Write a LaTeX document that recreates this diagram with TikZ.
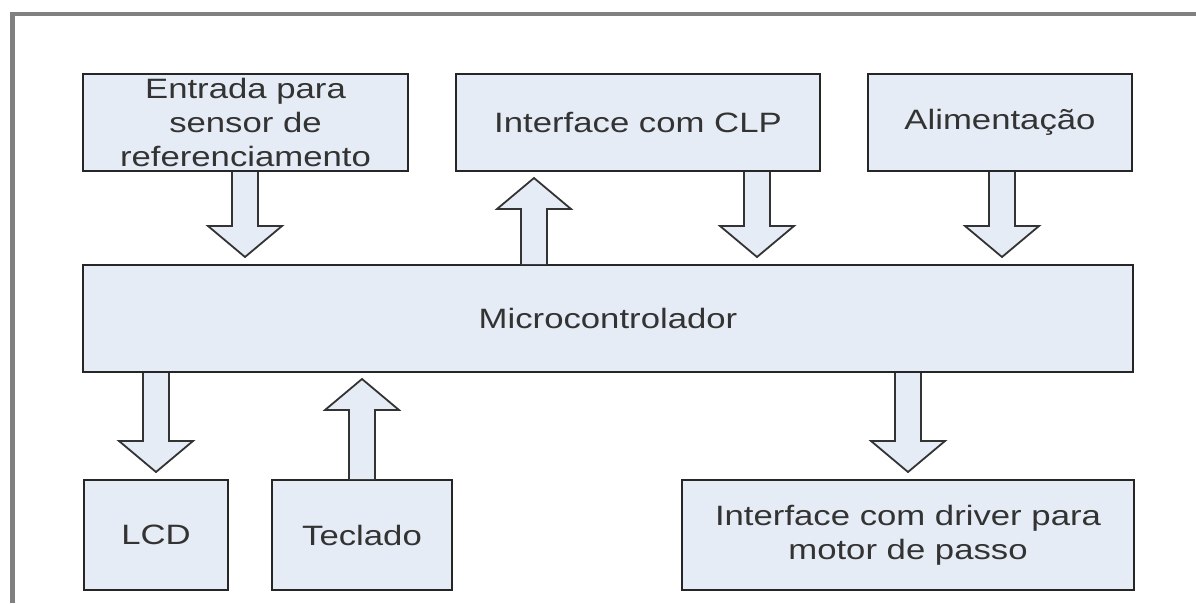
\documentclass[tikz,border=0pt]{standalone}
\usepackage{fontspec}
\setmainfont{Liberation Sans}[FakeStretch=1.24]
\usetikzlibrary{calc}
\definecolor{boxfill}{HTML}{E6ECF6}
\definecolor{txt}{HTML}{333333}
\definecolor{framegray}{HTML}{808080}
\tikzset{
  blockbox/.style={draw=black!85, line width=2pt, fill=boxfill, text=txt,
    inner sep=0pt, align=center, font=\fontsize{28}{34}\selectfont},
  blk/.style={draw=black!80, line width=1.8pt, fill=boxfill, line join=miter}
}
\newcommand\arrdown[3]{%
  \draw[blk] let \p1=(#2.south), \p2=(#3.north) in
    ({#1pt-13pt},\y1) -- ({#1pt-13pt},\y2+38pt) -- ({#1pt-37pt},\y2+38pt)
    -- ({#1pt},\y2+7pt) -- ({#1pt+37pt},\y2+38pt) -- ({#1pt+13pt},\y2+38pt)
    -- ({#1pt+13pt},\y1);}
\newcommand\arrup[3]{%
  \draw[blk] let \p1=(#2.north), \p2=(#3.south) in
    ({#1pt-13pt},\y1) -- ({#1pt-13pt},\y2-37pt) -- ({#1pt-37pt},\y2-37pt)
    -- ({#1pt},\y2-6pt) -- ({#1pt+37pt},\y2-37pt) -- ({#1pt+13pt},\y2-37pt)
    -- ({#1pt+13pt},\y1);}
\begin{document}
\begin{tikzpicture}[x=1pt,y=-1pt]
\useasboundingbox (0,0) rectangle (1196,603);
% frame
\draw[framegray, line width=4pt] (10,14) -- (1196,14);
\draw[framegray, line width=5pt] (12.5,12) -- (12.5,603);
% boxes
\node[blockbox, minimum width=325pt, minimum height=97pt] (ent) at (245.5,122.5)
  {Entrada para\\sensor de\\referenciamento};
\node[blockbox, minimum width=364pt, minimum height=97pt] (clp) at (638,122.5)
  {Interface com CLP};
\node[blockbox, minimum width=264pt, minimum height=97pt] (ali) at (1000,122.5)
  {Alimentação};
\node[blockbox, minimum width=1050pt, minimum height=107pt] (mic) at (608,318.5)
  {Microcontrolador};
\node[blockbox, minimum width=144pt, minimum height=110pt] (lcd) at (156,535)
  {LCD};
\node[blockbox, minimum width=180pt, minimum height=110pt] (tec) at (362,535)
  {Teclado};
\node[blockbox, minimum width=452pt, minimum height=110pt] (drv) at (908,535)
  {Interface com driver para\\motor de passo};
% block arrows
\arrdown{245}{ent}{mic}
\arrup{534}{mic}{clp}
\arrdown{757}{clp}{mic}
\arrdown{1002}{ali}{mic}
\arrdown{156}{mic}{lcd}
\arrup{362}{tec}{mic}
\arrdown{908}{mic}{drv}
\end{tikzpicture}
\end{document}
